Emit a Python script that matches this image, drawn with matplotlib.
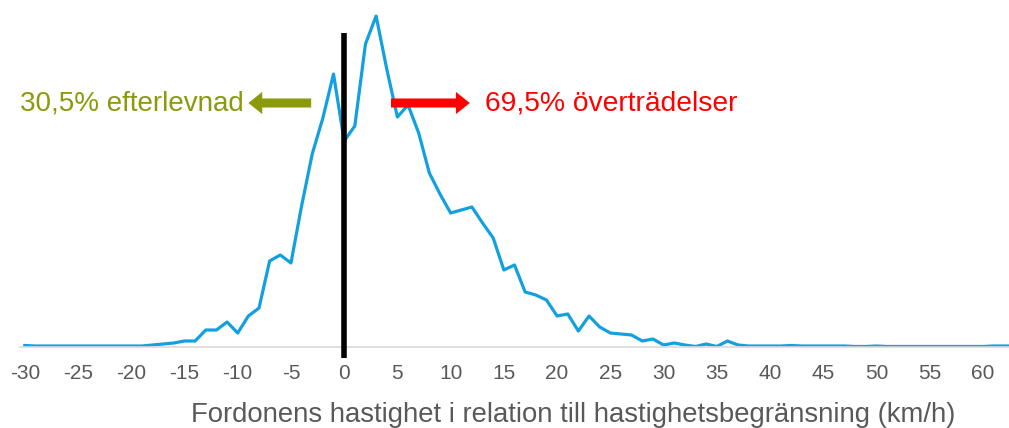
import numpy as np
import matplotlib.pyplot as plt

# speed relative to the limit (km/h), one point per km/h
speed = np.arange(-30, 64)

# relative share of vehicles (arbitrary units)
share = [1.5, 1, 1, 1, 1, 1, 1, 1, 1, 1, 1, 1,           # -30 .. -19
         2, 3, 4, 6, 6, 17, 17, 25, 14, 31, 39, 86,     # -18 .. -7
         92, 84, 141, 193, 229, 273,                     # -6 .. -1
         206, 221, 303, 331, 278, 230, 242, 214, 174, 153,   # 0 .. 9
         134, 137, 140, 124, 109, 77, 82, 55, 52, 47,        # 10 .. 19
         31, 33, 16, 31, 20, 14, 13, 12, 6, 8,               # 20 .. 29
         2, 4, 2, 0.5, 3, 0.5, 6, 2, 1, 1,                   # 30 .. 39
         1, 1, 1.5, 1, 1, 1, 1, 1, 0.5, 0.5,                 # 40 .. 49
         1, 0.5, 0.5, 0.5, 0.5, 0.5, 0.5, 0.5, 0.5, 0.5,     # 50 .. 59
         0.5, 1, 1, 1]                                       # 60 .. 63

xticks = np.arange(-30, 61, 5)
left_text = "30,5% efterlevnad"
right_text = "69,5% överträdelser"
xlabel = "Fordonens hastighet i relation till hastighetsbegränsning (km/h)"

gray = "#595959"
font = ["Liberation Sans", "DejaVu Sans"]

fig = plt.figure(figsize=(10.09, 4.28), dpi=100)
ax = fig.add_axes([20 / 1009, 81 / 428, 989 / 1009, 347 / 428])

ax.plot(speed, share, color="#12A0E0", lw=2.3, zorder=2)
ax.set_xlim(-30.45, 62.45)
ax.set_ylim(0, 347)

# vertical line at the speed limit
ax.plot([0, 0], [-11, 314], color="black", lw=4, clip_on=False, zorder=3,
        solid_capstyle="butt")

for side in ["top", "right", "left"]:
    ax.spines[side].set_visible(False)
ax.spines["bottom"].set_color("#d9d9d9")
ax.spines["bottom"].set_linewidth(1.2)
ax.set_yticks([])
ax.set_xticks(xticks)
ax.set_xticklabels([str(t) for t in xticks], family=font, fontsize=15,
                   color=gray)
ax.tick_params(axis="x", length=0, pad=12)
ax.set_xlabel(xlabel, family=font, fontsize=19.8, color=gray)
ax.xaxis.set_label_coords(0.559, -0.158)

# arrows and percentages
style = "simple,head_length=1.0,head_width=1.6,tail_width=0.65"
ax.annotate("", xy=(-9.0, 244), xytext=(-3.1, 244),
            arrowprops=dict(arrowstyle=style, color="#8A9A0B", lw=0,
                            shrinkA=0, shrinkB=0))
ax.text(-9.45, 243, left_text, color="#8A9A0B", fontsize=20, ha="right",
        va="center", family=font)
ax.annotate("", xy=(11.8, 244), xytext=(4.4, 244),
            arrowprops=dict(arrowstyle=style, color="#FF0000", lw=0,
                            shrinkA=0, shrinkB=0))
ax.text(13.2, 243, right_text, color="#FF0000", fontsize=20.3, ha="left",
        va="center", family=font)

fig.savefig("out.png", dpi=100)
